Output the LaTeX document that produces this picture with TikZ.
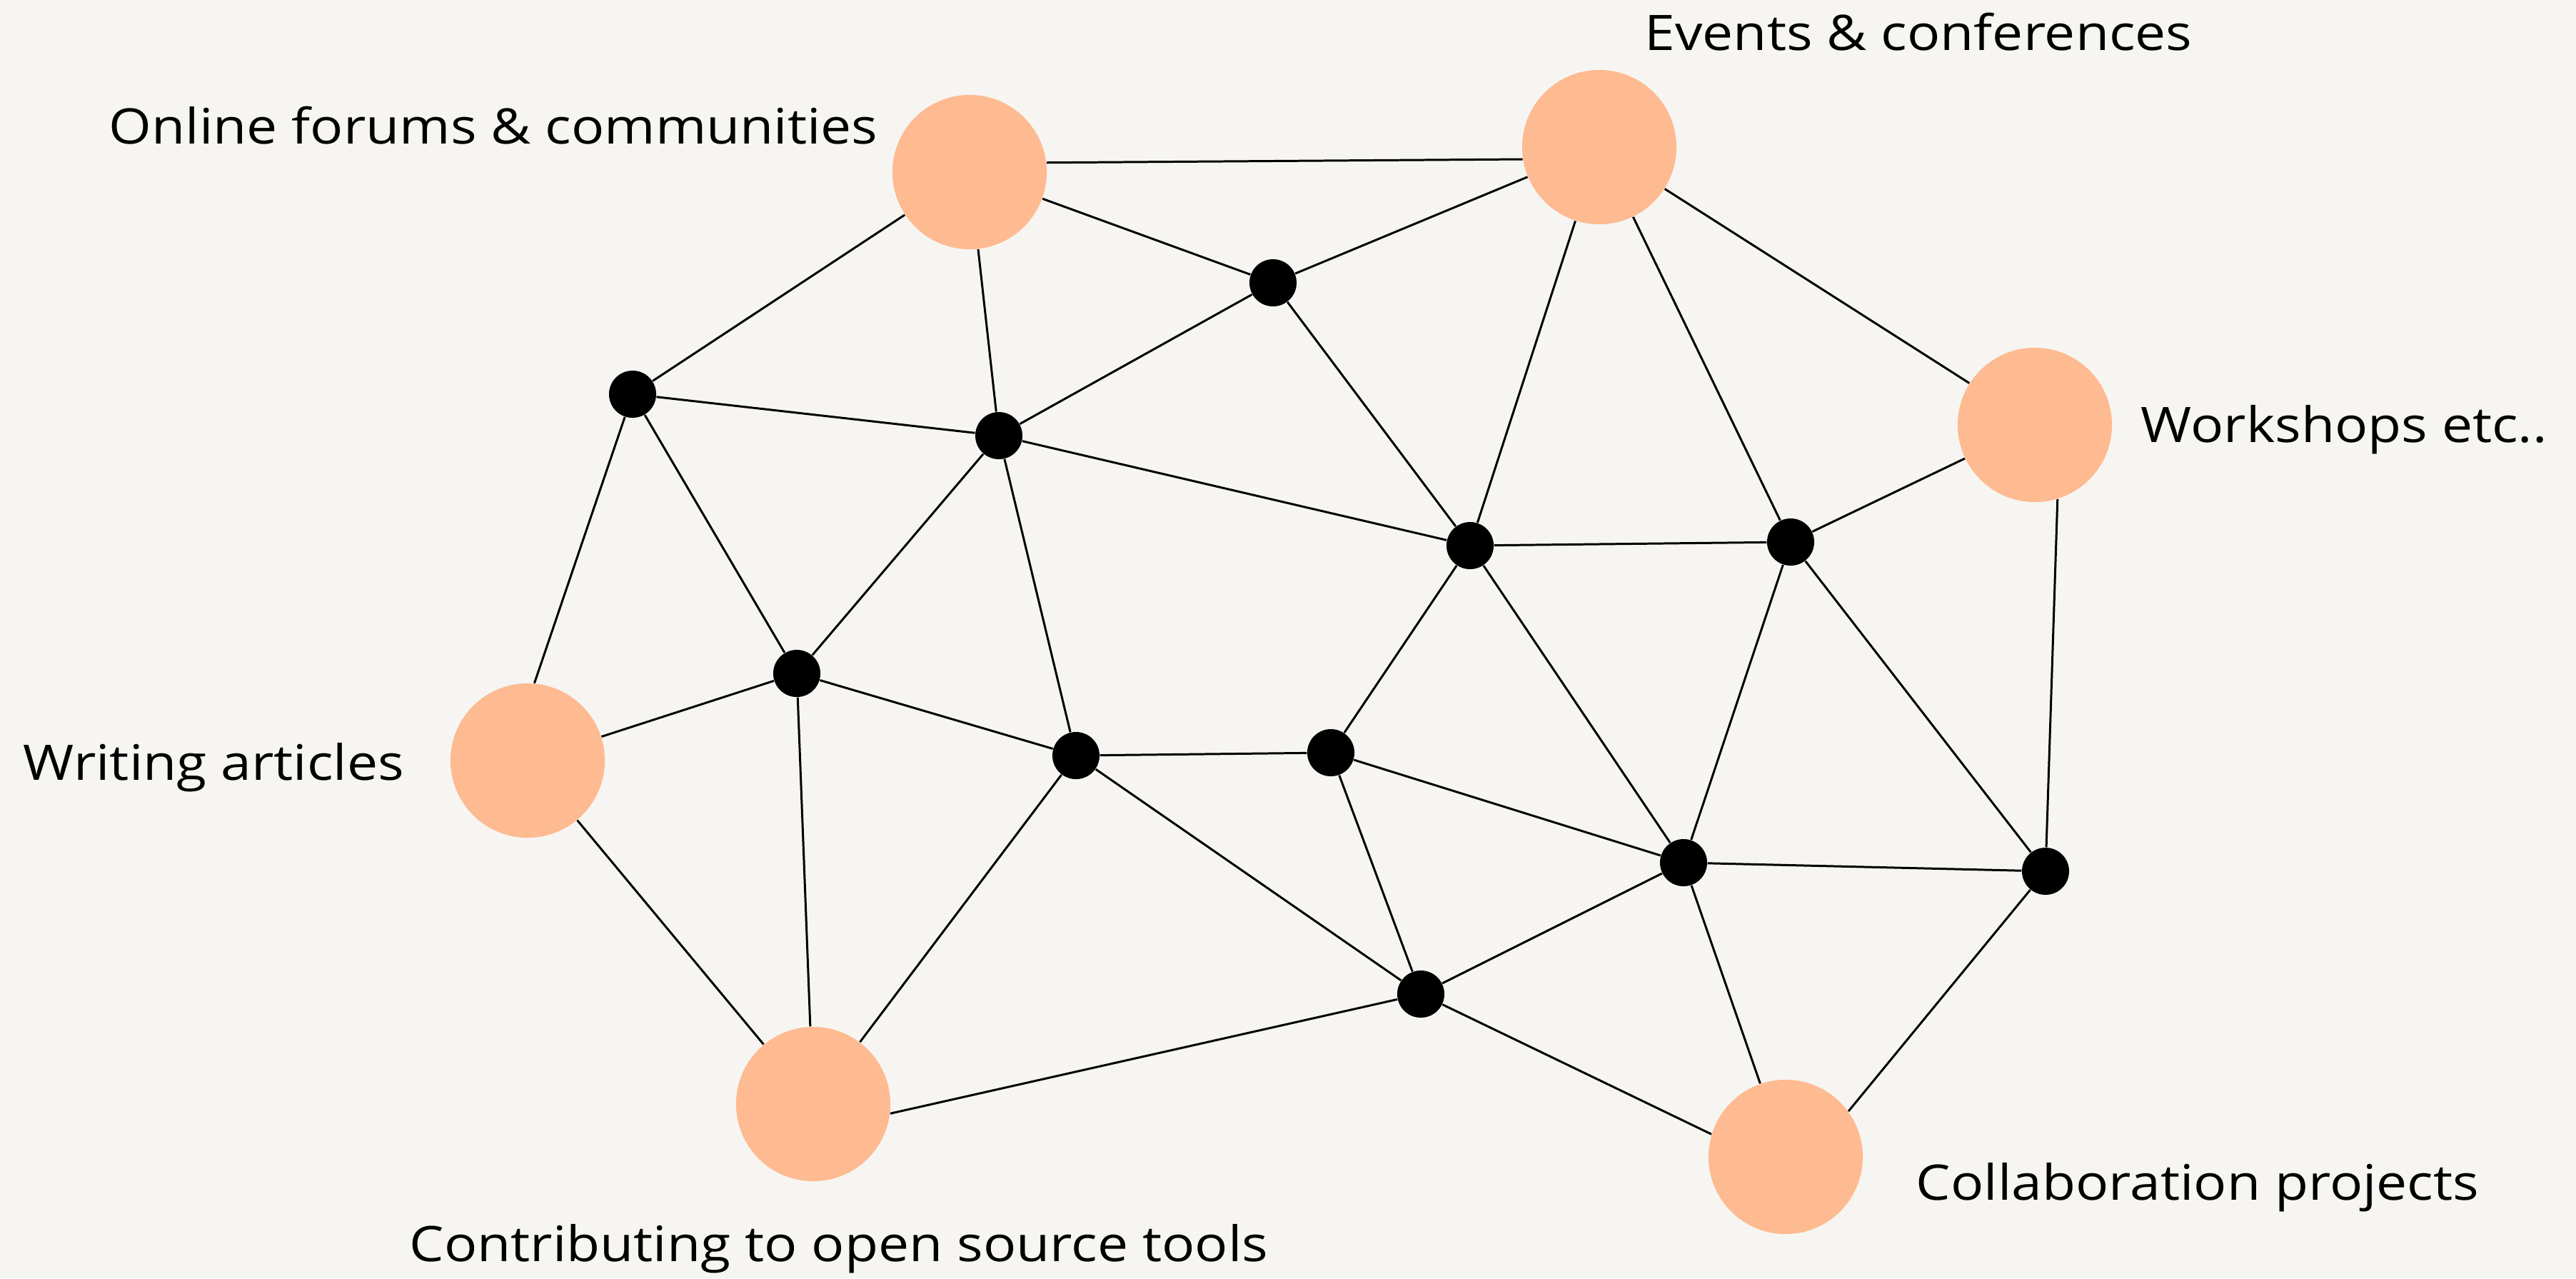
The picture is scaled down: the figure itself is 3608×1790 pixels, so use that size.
\documentclass[tikz,border=0pt]{standalone}
\usepackage{fontspec}
\setmainfont{Open Sans}[FakeStretch=1.12]
\definecolor{paper}{HTML}{F6F5F1}
\definecolor{peach}{HTML}{FEBA91}
\begin{document}
\begin{tikzpicture}[x=0.01cm,y=-0.01cm,
  hub/.style={circle,fill=peach,minimum size=2.16cm,inner sep=0pt},
  dot/.style={circle,fill=black,minimum size=0.66cm,inner sep=0pt},
  link/.style={line width=0.85pt,black},
  caption/.style={anchor=base west,inner sep=0pt,font=\fontsize{19.5pt}{22pt}\selectfont}]
\fill[paper] (0,0) rectangle (3608,1790);
\useasboundingbox (0,0) rectangle (3608,1790);

% main topics
\node[hub] (forums) at (1358,241) {};
\node[hub] (events) at (2240,206) {};
\node[hub] (workshops) at (2850,595) {};
\node[hub] (writing) at (739,1065) {};
\node[hub] (opensource) at (1139,1546) {};
\node[hub] (collab) at (2501,1620) {};

% junction points
\node[dot] (a) at (1783,396) {};
\node[dot] (b) at (886,552) {};
\node[dot] (c) at (1399,610) {};
\node[dot] (d) at (2059,764) {};
\node[dot] (e) at (2508,759) {};
\node[dot] (f) at (1116,943) {};
\node[dot] (g) at (1507,1058) {};
\node[dot] (h) at (1864,1054) {};
\node[dot] (i) at (2358,1208) {};
\node[dot] (j) at (2865,1220) {};
\node[dot] (k) at (1990,1392) {};

% connections
\draw[link] (forums.7) -- (events.189);
\draw[link] (workshops.-73) -- (j);
\draw[link] (b) -- (writing.85);
\draw[link] (opensource.-7) -- (k);
\draw[link] (k) -- (collab.163);
\draw[link] (collab.36) -- (j);
\foreach \p/\q in {forums/a, forums/b, forums/c,
  events/a, events/d, events/e, events/workshops,
  workshops/e,
  a/c, a/d, b/c, b/f,
  c/d, c/f, c/g, d/e, d/h, d/i, e/i, e/j,
  f/writing, f/g, f/opensource, g/h, g/opensource, g/k,
  h/i, h/k, i/j, i/k, i/collab, writing/opensource}
  \draw[link] (\p) -- (\q);

% labels
\node[caption] (tforums) at (152,201) {Online forums \& communities};
\node[caption] (tevents) at (2303,70) {Events \& conferences};
\node[caption] (tworkshops) at (2998,619) {Workshops etc..};
\node[caption] (twriting) at (32,1092) {Writing articles};
\node[caption] (topensource) at (573,1766) {Contributing to open source tools};
\node[caption] (tcollab) at (2683,1680) {Collaboration projects};
\end{tikzpicture}
\end{document}
